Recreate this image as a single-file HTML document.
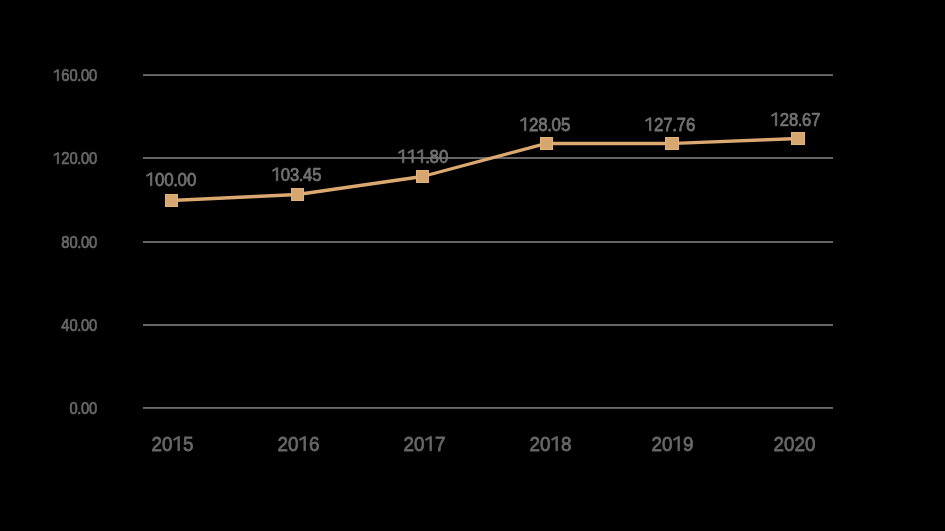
<!DOCTYPE html>
<html>
<head>
<meta charset="utf-8">
<title>Chart</title>
<style>
html,body{margin:0;padding:0;background:#000;}
body{width:945px;height:531px;overflow:hidden;}
svg{display:block;}
text{font-family:"Liberation Sans",sans-serif;font-kerning:none;}
text,path{stroke-linejoin:round;}
.g{fill:#666;}
.ya{fill:#686868;stroke:#686868;stroke-width:0.7px;font-size:16.1px;filter:blur(0.45px);}
.xa{fill:#676767;stroke:#676767;stroke-width:0.8px;font-size:20.7px;filter:blur(0.45px);}
.dl{fill:#737373;stroke:#737373;stroke-width:0.75px;font-size:18.9px;filter:blur(0.45px);}
</style>
</head>
<body>
<svg width="945" height="531" viewBox="0 0 945 531">
<rect width="945" height="531" fill="#000"/>
<!-- gridlines -->
<rect class="g" x="143" y="74.15" width="690" height="1.85" style="fill:#6b6b6b"/>
<rect class="g" x="143" y="157" width="690" height="2"/>
<rect class="g" x="143" y="241" width="690" height="2"/>
<rect class="g" x="143" y="324" width="690" height="2"/>
<rect class="g" x="143" y="407" width="690" height="1.85" style="fill:#6b6b6b"/>
<!-- y axis labels -->
<g class="ya">
<g id="y160"><text transform="translate(0,80.7) scale(0.9158,1)" x="66.83 75.78 84.30 88.34 97.29" y="0">60.00</text>
<path vector-effect="non-scaling-stroke" transform="translate(53.00,80.7) scale(0.007199,-0.007861)" d="M598 0L768 0L768 1409L640 1409L110 1130L170 1010L598 1235Z"/></g>
<g id="y120"><text transform="translate(0,163.7) scale(0.9158,1)" x="66.83 75.78 84.30 88.34 97.29" y="0">20.00</text>
<path vector-effect="non-scaling-stroke" transform="translate(53.00,163.7) scale(0.007199,-0.007861)" d="M598 0L768 0L768 1409L640 1409L110 1130L170 1010L598 1235Z"/></g>
<g id="y80"><text transform="translate(0,247.7) scale(0.9158,1)" x="66.83 75.78 84.30 88.34 97.29" y="0">80.00</text></g>
<g id="y40"><text transform="translate(0,330.7) scale(0.9158,1)" x="66.83 75.78 84.30 88.34 97.29" y="0">40.00</text></g>
<g id="y0"><text transform="translate(0,413.7) scale(0.9158,1)" x="75.78 84.30 88.34 97.29" y="0">0.00</text></g>
</g>
<!-- x axis labels -->
<g class="xa">
<g id="x2015"><text transform="translate(0,450.7) scale(0.9121,1)" x="166.00 177.51 200.53" y="0">205</text>
<path vector-effect="non-scaling-stroke" transform="translate(172.40,450.7) scale(0.009219,-0.010107)" d="M598 0L768 0L768 1409L640 1409L110 1130L170 1010L598 1235Z"/></g>
<g id="x2016"><text transform="translate(0,450.7) scale(0.9121,1)" x="304.15 315.66 338.68" y="0">206</text>
<path vector-effect="non-scaling-stroke" transform="translate(298.40,450.7) scale(0.009219,-0.010107)" d="M598 0L768 0L768 1409L640 1409L110 1130L170 1010L598 1235Z"/></g>
<g id="x2017"><text transform="translate(0,450.7) scale(0.9121,1)" x="442.29 453.81 476.83" y="0">207</text>
<path vector-effect="non-scaling-stroke" transform="translate(424.40,450.7) scale(0.009219,-0.010107)" d="M598 0L768 0L768 1409L640 1409L110 1130L170 1010L598 1235Z"/></g>
<g id="x2018"><text transform="translate(0,450.7) scale(0.9121,1)" x="580.44 591.95 614.98" y="0">208</text>
<path vector-effect="non-scaling-stroke" transform="translate(550.40,450.7) scale(0.009219,-0.010107)" d="M598 0L768 0L768 1409L640 1409L110 1130L170 1010L598 1235Z"/></g>
<g id="x2019"><text transform="translate(0,450.7) scale(0.9121,1)" x="714.20 725.72 748.74" y="0">209</text>
<path vector-effect="non-scaling-stroke" transform="translate(672.40,450.7) scale(0.009219,-0.010107)" d="M598 0L768 0L768 1409L640 1409L110 1130L170 1010L598 1235Z"/></g>
<g id="x2020"><text transform="translate(0,450.7) scale(0.9121,1)" x="847.97 859.48 870.99 882.50" y="0">2020</text></g>
</g>
<!-- data labels -->
<g class="dl">
<g id="d1"><text transform="translate(0,185.7) scale(0.8971,1)" x="172.69 183.21 193.19 197.92 208.43" y="0">00.00</text>
<path vector-effect="non-scaling-stroke" transform="translate(145.50,185.7) scale(0.008279,-0.009229)" d="M598 0L768 0L768 1409L640 1409L110 1130L170 1010L598 1235Z"/></g>
<g id="d2"><text transform="translate(0,180.7) scale(0.8819,1)" x="318.37 328.88 338.87 343.59 354.10" y="0">03.45</text>
<path vector-effect="non-scaling-stroke" transform="translate(271.50,180.7) scale(0.008139,-0.009229)" d="M598 0L768 0L768 1409L640 1409L110 1130L170 1010L598 1235Z"/></g>
<g id="d3"><text transform="translate(0,162.7) scale(0.8971,1)" x="474.09 478.82 489.33" y="0">.80</text>
<path vector-effect="non-scaling-stroke" transform="translate(397.50,162.7) scale(0.008279,-0.009229)" d="M598 0L768 0L768 1409L640 1409L110 1130L170 1010L598 1235Z"/>
<path vector-effect="non-scaling-stroke" transform="translate(406.93,162.7) scale(0.008279,-0.009229)" d="M598 0L768 0L768 1409L640 1409L110 1130L170 1010L598 1235Z"/>
<path vector-effect="non-scaling-stroke" transform="translate(416.36,162.7) scale(0.008279,-0.009229)" d="M598 0L768 0L768 1409L640 1409L110 1130L170 1010L598 1235Z"/></g>
<g id="d4"><text transform="translate(0,130.7) scale(0.8971,1)" x="589.58 600.09 610.08 614.81 625.32" y="0">28.05</text>
<path vector-effect="non-scaling-stroke" transform="translate(519.50,130.7) scale(0.008279,-0.009229)" d="M598 0L768 0L768 1409L640 1409L110 1130L170 1010L598 1235Z"/></g>
<g id="d5"><text transform="translate(0,130.7) scale(0.8971,1)" x="728.91 739.42 749.41 754.14 764.65" y="0">27.76</text>
<path vector-effect="non-scaling-stroke" transform="translate(644.50,130.7) scale(0.008279,-0.009229)" d="M598 0L768 0L768 1409L640 1409L110 1130L170 1010L598 1235Z"/></g>
<g id="d6"><text transform="translate(0,125.7) scale(0.8819,1)" x="884.18 894.69 904.68 909.41 919.92" y="0">28.67</text>
<path vector-effect="non-scaling-stroke" transform="translate(770.50,125.7) scale(0.008139,-0.009229)" d="M598 0L768 0L768 1409L640 1409L110 1130L170 1010L598 1235Z"/></g>
</g>
<!-- data line -->
<polyline fill="none" stroke="#daa870" stroke-width="3.3" stroke-linejoin="round" points="171.5,200.5 297.5,194.5 422.5,176.5 546.5,143.4 672,143.5 798,138.5"/>
<!-- markers -->
<g fill="#d6a770" stroke="#e3b17a" stroke-width="1">
<rect x="165.5" y="194.5" width="12" height="12"/>
<rect x="291.5" y="188.5" width="12" height="12"/>
<rect x="416.5" y="170.5" width="12" height="12"/>
<rect x="540.5" y="137.5" width="12" height="12"/>
<rect x="665.5" y="137.5" width="13" height="12"/>
<rect x="791.5" y="132.5" width="13" height="12"/>
</g>
</svg>
</body>
</html>
